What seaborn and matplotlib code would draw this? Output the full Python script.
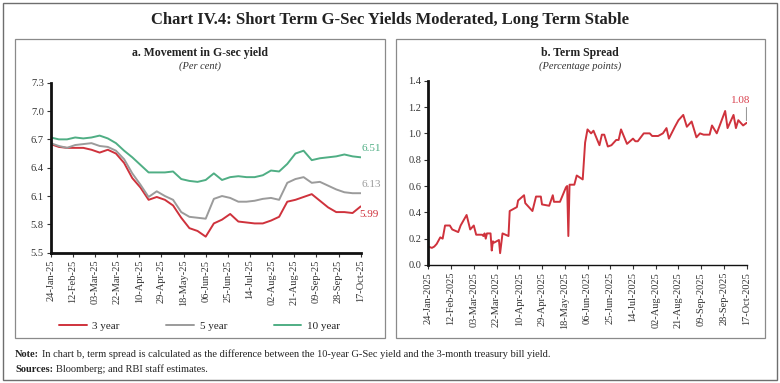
import matplotlib
matplotlib.use("Agg")
import matplotlib.pyplot as plt
import matplotlib.dates as mdates
from matplotlib.patches import Rectangle
import seaborn as sns
import pandas as pd
import numpy as np

# ---------------- data ----------------
week_dates = pd.date_range("2025-01-24", "2025-10-17", freq="7D")

yield_3y = [6.65, 6.62, 6.61, 6.61, 6.61, 6.59, 6.56, 6.59, 6.55, 6.45,
            6.29, 6.19, 6.06, 6.09, 6.06, 6.00, 5.87, 5.76, 5.73, 5.67,
            5.81, 5.85, 5.91, 5.83, 5.82, 5.81, 5.81, 5.84, 5.88, 6.04,
            6.06, 6.09, 6.12, 6.05, 5.98, 5.93, 5.93, 5.92, 5.99]
yield_5y = [6.66, 6.63, 6.61, 6.64, 6.65, 6.66, 6.63, 6.62, 6.58, 6.49,
            6.34, 6.22, 6.09, 6.15, 6.10, 6.06, 5.93, 5.88, 5.87, 5.86,
            6.07, 6.10, 6.08, 6.04, 6.04, 6.05, 6.07, 6.08, 6.06, 6.24,
            6.28, 6.30, 6.24, 6.25, 6.21, 6.17, 6.14, 6.13, 6.13]
yield_10y = [6.72, 6.70, 6.70, 6.72, 6.71, 6.72, 6.74, 6.71, 6.66, 6.58,
             6.51, 6.43, 6.35, 6.35, 6.35, 6.36, 6.28, 6.26, 6.25, 6.27,
             6.34, 6.27, 6.30, 6.31, 6.30, 6.30, 6.32, 6.37, 6.36, 6.44,
             6.55, 6.58, 6.48, 6.50, 6.51, 6.52, 6.54, 6.52, 6.51]
series_names = ["3 year", "5 year", "10 year"]

spread_dates = [
    "2025-01-24", "2025-01-27", "2025-01-29", "2025-01-31", "2025-02-03", "2025-02-05",
    "2025-02-07", "2025-02-11", "2025-02-13", "2025-02-18", "2025-02-20", "2025-02-25",
    "2025-02-28", "2025-03-03", "2025-03-05", "2025-03-10", "2025-03-11", "2025-03-12",
    "2025-03-13", "2025-03-14", "2025-03-17", "2025-03-18", "2025-03-19", "2025-03-20",
    "2025-03-24", "2025-03-25", "2025-03-27", "2025-04-01", "2025-04-02", "2025-04-04",
    "2025-04-08", "2025-04-09", "2025-04-14", "2025-04-15", "2025-04-21", "2025-04-24",
    "2025-04-28", "2025-04-29", "2025-05-05", "2025-05-08", "2025-05-09", "2025-05-14",
    "2025-05-19", "2025-05-20", "2025-05-21", "2025-05-22", "2025-05-26", "2025-05-28",
    "2025-06-02", "2025-06-04", "2025-06-06", "2025-06-09", "2025-06-11", "2025-06-16",
    "2025-06-18", "2025-06-20", "2025-06-23", "2025-06-26", "2025-06-30", "2025-07-02",
    "2025-07-04", "2025-07-09", "2025-07-14", "2025-07-16", "2025-07-18", "2025-07-23",
    "2025-07-28", "2025-07-30", "2025-08-04", "2025-08-08", "2025-08-11", "2025-08-13",
    "2025-08-18", "2025-08-21", "2025-08-25", "2025-08-28", "2025-09-01", "2025-09-05",
    "2025-09-08", "2025-09-11", "2025-09-16", "2025-09-18", "2025-09-22", "2025-09-29",
    "2025-10-01", "2025-10-06", "2025-10-08", "2025-10-10", "2025-10-14", "2025-10-17"]
term_spread = [
    0.14, 0.13, 0.14, 0.16, 0.21, 0.20,
    0.30, 0.30, 0.27, 0.25, 0.30, 0.38,
    0.27, 0.30, 0.23, 0.23, 0.22, 0.24,
    0.20, 0.24, 0.24, 0.11, 0.18, 0.17,
    0.19, 0.09, 0.24, 0.22, 0.41, 0.42,
    0.44, 0.49, 0.53, 0.47, 0.41, 0.52,
    0.52, 0.46, 0.45, 0.53, 0.48, 0.48,
    0.59, 0.60, 0.22, 0.61, 0.61, 0.68,
    0.65, 0.93, 1.03, 1.00, 1.02, 0.91,
    0.99, 0.99, 0.90, 0.91, 0.95, 0.95,
    1.03, 0.92, 0.96, 0.94, 0.94, 1.00,
    1.00, 0.98, 0.98, 1.00, 1.04, 0.96,
    1.05, 1.10, 1.14, 1.05, 1.09, 0.97,
    1.00, 0.99, 0.99, 1.06, 1.00, 1.17,
    1.04, 1.14, 1.04, 1.10, 1.06, 1.08]

tick_dates = pd.date_range("2025-01-24", "2025-10-17", freq="19D")

# ---------------- style ----------------
sns.set_theme(style="white")
SERIF = ["Liberation Serif", "DejaVu Serif"]
plt.rcParams["font.family"] = SERIF
plt.rcParams["axes.unicode_minus"] = False

RED = "#CF323C"
GREY = "#9B9B9B"
GREEN = "#4FAE84"
palette = {"3 year": RED, "5 year": GREY, "10 year": GREEN}

fig = plt.figure(figsize=(7.8, 3.83), dpi=100)
W, H = 780, 383

def fx(px):
    return px / W

def fy(py):
    return 1 - py / H

# frames
fig.patches.append(Rectangle((fx(3), fy(380)), fx(774), 377 / H, transform=fig.transFigure,
                             fill=False, edgecolor="#6e6e6e", linewidth=1.0))
fig.patches.append(Rectangle((fx(15.5), fy(338)), fx(369), 299 / H, transform=fig.transFigure,
                             fill=False, edgecolor="#8a8a8a", linewidth=0.9))
fig.patches.append(Rectangle((fx(396), fy(338)), fx(369), 299 / H, transform=fig.transFigure,
                             fill=False, edgecolor="#8a8a8a", linewidth=0.9))

fig.text(0.5, fy(20), "Chart IV.4: Short Term G-Sec Yields Moderated, Long Term Stable",
         ha="center", va="center", fontsize=12, fontweight="bold", color="#222222")

# ---------------- panel a ----------------
ax1 = fig.add_axes([fx(50.7), fy(252.7), fx(310), (252.7 - 82.7) / H])
df_a = pd.DataFrame({
    "date": list(week_dates) * 3,
    "value": yield_3y + yield_5y + yield_10y,
    "series": [series_names[0]] * len(yield_3y) + [series_names[1]] * len(yield_5y)
              + [series_names[2]] * len(yield_10y),
})
sns.lineplot(data=df_a, x="date", y="value", hue="series", palette=palette,
             hue_order=series_names, linewidth=1.4, ax=ax1)
ax1.set_ylim(5.5, 7.3)
ax1.set_yticks([5.5, 5.8, 6.1, 6.4, 6.7, 7.0, 7.3])
ax1.set_yticklabels(["5.5", "5.8", "6.1", "6.4", "6.7", "7.0", "7.3"])
ax1.set_xlim(week_dates[0], pd.Timestamp("2025-10-17"))
ax1.set_xticks(tick_dates)
ax1.xaxis.set_major_formatter(mdates.DateFormatter("%d-%b-%y"))
ax1.set_xlabel("")
ax1.set_ylabel("")
sns.move_legend(ax1, "upper center", bbox_to_anchor=(0.48, -0.345), ncol=3, frameon=False,
                title=None, fontsize=8, columnspacing=4.2, handlelength=2.5, handletextpad=0.5)
ax1.text(week_dates[-1] + pd.Timedelta(days=1), yield_10y[-1] + 0.09, "6.51", color=GREEN,
         fontsize=8, ha="left", va="center")
ax1.text(week_dates[-1] + pd.Timedelta(days=1), yield_5y[-1] + 0.09, "6.13", color=GREY,
         fontsize=8, ha="left", va="center")
ax1.text(week_dates[-1] - pd.Timedelta(days=1), yield_3y[-1] - 0.09, "5.99", color=RED,
         fontsize=8, ha="left", va="center")
fig.text(fx(200), fy(53), "a. Movement in G-sec yield", ha="center", va="center",
         fontsize=8.5, fontweight="bold", color="#222222")
fig.text(fx(200), fy(66), "(Per cent)", ha="center", va="center",
         fontsize=7.5, style="italic", color="#333333")

# ---------------- panel b ----------------
ax2 = fig.add_axes([fx(428.3), fy(265), fx(318.4), (265 - 80.7) / H])
df_b = pd.DataFrame({"date": pd.to_datetime(spread_dates), "spread": term_spread})
sns.lineplot(data=df_b, x="date", y="spread", color=RED, linewidth=1.4, ax=ax2)
ax2.set_ylim(0, 1.4)
ax2.set_yticks([0.0, 0.2, 0.4, 0.6, 0.8, 1.0, 1.2, 1.4])
ax2.set_yticklabels(["0.0", "0.2", "0.4", "0.6", "0.8", "1.0", "1.2", "1.4"])
ax2.set_xlim(pd.Timestamp("2025-01-24"), pd.Timestamp("2025-10-17"))
ax2.set_xticks(tick_dates)
ax2.xaxis.set_major_formatter(mdates.DateFormatter("%d-%b-%Y"))
ax2.set_xlabel("")
ax2.set_ylabel("")
last_d = pd.Timestamp(spread_dates[-1])
ax2.plot([last_d - pd.Timedelta(days=1)] * 2, [term_spread[-1] + 0.02, term_spread[-1] + 0.12],
         color="#999999", linewidth=0.8)
ax2.text(last_d - pd.Timedelta(days=5), term_spread[-1] + 0.17, "1.08", color="#D9414E",
         fontsize=8, ha="center", va="center")
fig.text(fx(580), fy(53), "b. Term Spread", ha="center", va="center",
         fontsize=8.5, fontweight="bold", color="#222222")
fig.text(fx(580), fy(66), "(Percentage points)", ha="center", va="center",
         fontsize=7.5, style="italic", color="#333333")

for ax in (ax1, ax2):
    ax.set_facecolor("none")
    for s in ("top", "right"):
        ax.spines[s].set_visible(False)
    ax.spines["left"].set_color("#111111")
    ax.spines["left"].set_linewidth(2.0)
    ax.spines["bottom"].set_color("#111111")
    ax.tick_params(axis="both", which="major", direction="out", length=3, width=0.8,
                   color="#333333", labelsize=7.5, labelcolor="#333333", pad=2,
                   left=True, bottom=True)
    for lab in ax.get_xticklabels():
        lab.set_rotation(90)
ax1.spines["bottom"].set_linewidth(2.0)
ax2.spines["bottom"].set_linewidth(1.0)

# ---------------- footnotes ----------------
renderer = fig.canvas.get_renderer()

def lead_text(y_px, head, body):
    t = fig.text(fx(15), fy(y_px), head, fontsize=7.5, fontweight="bold", va="baseline",
                 color="#222222")
    bb = t.get_window_extent(renderer=renderer)
    fig.text(fx(bb.x1 + 3), fy(y_px), body, fontsize=7.5, va="baseline", color="#222222")

lead_text(357, "Note:", "In chart b, term spread is calculated as the difference between the "
          "10-year G-Sec yield and the 3-month treasury bill yield.")
lead_text(372, "Sources:", "Bloomberg; and RBI staff estimates.")

fig.savefig("out.png", dpi=100)
